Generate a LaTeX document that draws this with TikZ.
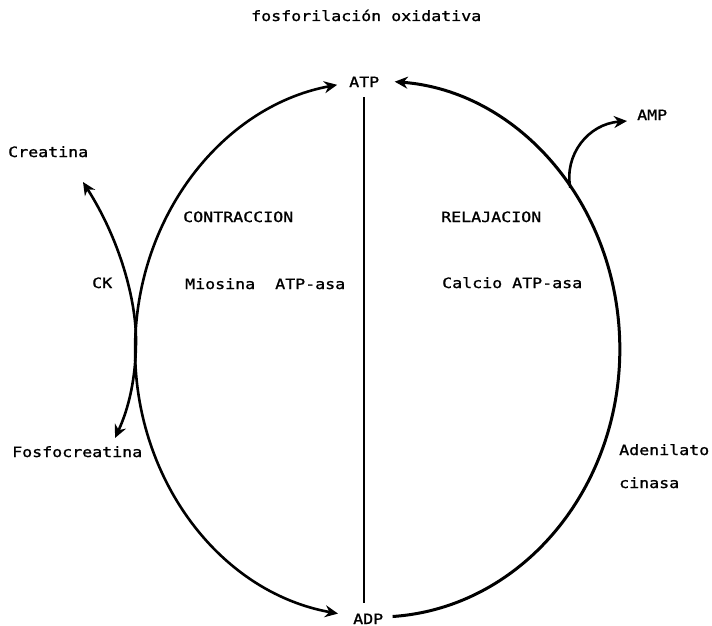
\documentclass[tikz,border=0pt]{standalone}
\usepackage{fontspec}
\newfontfamily\matriz[FakeStretch=1.17,FakeBold=1.2]{DejaVu Sans Mono}
\usetikzlibrary{arrows.meta}

\begin{document}
\begin{tikzpicture}[x=1pt,y=-1pt,
  txt/.style={font=\matriz\fontsize{14.2}{15}\selectfont, inner sep=0pt, anchor=base west},
  punta/.tip={Stealth[length=13pt,width=12pt]},
  flecha/.style={line width=2.6pt, -punta},
  doble/.style={line width=2.6pt, punta-punta}]
\useasboundingbox (0,0) rectangle (712,626);

\node[txt] (titulo) at (251,21) {fosforilación oxidativa};
\node[txt] (atp) at (349,87) {ATP};
\node[txt] (adp) at (353,624) {ADP};
\node[txt] (amp) at (637,120) {AMP};
\node[txt] (creatina) at (8,157) {Creatina};
\node[txt] (fosfo) at (12,457) {Fosfocreatina};
\node[txt] (ck) at (92,288) {CK};
\node[txt] (contra) at (183,222) {CONTRACCION};
\node[txt] (miosina) at (185,289) {Miosina\ \ ATP-asa};
\node[txt] (relaja) at (441,222) {RELAJACION};
\node[txt] (calcio) at (442,288) {Calcio ATP-asa};
\node[txt] (adenil) at (619,455) {Adenilato};
\node[txt] (cinasa) at (619,488) {cinasa};

\coordinate (atpL) at (337,85);
\coordinate (adpL) at (338,613.6);
\coordinate (adpR) at (392.6,616.5);
\coordinate (ampS) at (570.3,187.7);
\coordinate (ampT) at (627,121);
\coordinate (creT) at (83,182);
\coordinate (ckM) at (136,340);
\coordinate (fosT) at (115,438);

\path[draw,doble] (adpL) arc[start angle=99.3, end angle=260.5, x radius=242, y radius=268];
\path[draw,flecha,line width=3pt] (adpR) arc[start angle=86.5, end angle=-86, x radius=242, y radius=268];
\path[draw,line width=2pt,shorten <=10pt,shorten >=10pt] (atp.south) -- (atp.south |- adp.north);
\path[draw,flecha] (ampS) .. controls (564,155) and (588,124) .. (ampT);
\path[draw,doble] (creT) .. controls (120,240) and (136,300) .. (ckM) .. controls (136,380) and (128,410) .. (fosT);
\end{tikzpicture}
\end{document}
